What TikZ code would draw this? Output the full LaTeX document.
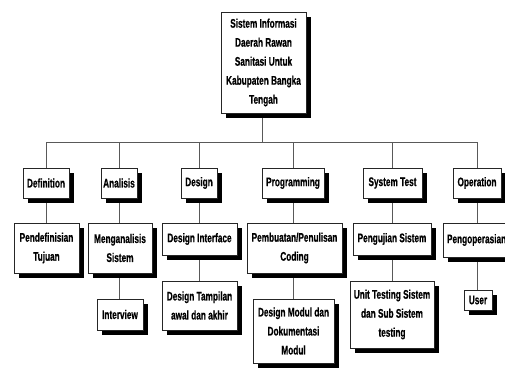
\documentclass[tikz,border=0pt]{standalone}
\usepackage{fontspec}
\setmainfont{Liberation Sans}[FakeStretch=0.66, BoldFeatures={FakeBold=0.5}]
\usetikzlibrary{shadows,backgrounds}
\begin{document}
\begin{tikzpicture}[x=1pt,y=-1pt,
  box/.style={draw=black!85, line width=0.7pt, fill=white, align=center,
    inner sep=1pt, font=\fontsize{12.5}{19}\selectfont\bfseries,
    drop shadow={shadow xshift=5pt, shadow yshift=-5pt, fill=black, opacity=1}},
  link/.style={draw=black!65, line width=0.7pt}]
\useasboundingbox (0,0) rectangle (505,369);
% root
\node[box, minimum width=85, minimum height=101] (root) at (263.5,62.5)
  {Sistem Informasi\\Daerah Rawan\\Sanitasi Untuk\\Kabupaten Bangka\\Tengah};
% phases
\node[box, minimum width=46, minimum height=30] (def)  at (46,183)    {Definition};
\node[box, minimum width=36, minimum height=30] (ana)  at (119,183)   {Analisis};
\node[box, minimum width=36, minimum height=30] (des)  at (199,183)   {Design};
\node[box, minimum width=62, minimum height=30] (prog) at (293,183)   {Programming};
\node[box, minimum width=59, minimum height=30] (test) at (392.5,183) {System Test};
\node[box, minimum width=48, minimum height=30] (oper) at (477,183)   {Operation};
% activities
\node[box, minimum width=65, minimum height=50] (pend) at (46.5,248)  {Pendefinisian\\Tujuan};
\node[box, minimum width=64, minimum height=50] (meng) at (120,248)   {Menganalisis\\Sistem};
\node[box, minimum width=75, minimum height=32] (dint) at (199.5,239) {Design Interface};
\node[box, minimum width=95, minimum height=50] (pemb) at (294.5,248) {Pembuatan/Penulisan\\Coding};
\node[box, minimum width=78, minimum height=32] (peng) at (392,239)   {Pengujian Sistem};
\node[box, minimum width=72, minimum height=34, text width=64, align=left] (pop) at (479,240) {Pengoperasian};
% details
\node[box, minimum width=46, minimum height=31] (intv) at (120,314.5)   {Interview};
\node[box, minimum width=75, minimum height=49] (dtam) at (199.5,305.5) {Design Tampilan\\awal dan akhir};
\node[box, minimum width=81, minimum height=64] (dmod) at (293.5,331)   {Design Modul dan\\Dokumentasi\\Modul};
\node[box, minimum width=84, minimum height=67] (unit) at (392,314.5)   {Unit Testing Sistem\\dan Sub Sistem\\testing};
\node[box, minimum width=28, minimum height=20] (user) at (478,300)     {User};
% connectors, kept behind the boxes
\coordinate (bl) at (def.north |- 0,142);
\coordinate (br) at (oper.north |- 0,142);
\coordinate (bt) at (262,142);
\begin{scope}[on background layer]
  \draw[link] (bl) -- (br);
  \draw[link] (root.south -| bt) -- (bt);
  \foreach \n in {def,ana,des,prog,test,oper}
    \draw[link] (\n.north |- bl) -- (\n.north);
  \draw[link] (def.south)  -- (def.south |- pend.north);
  \draw[link] (ana.south)  -- (ana.south |- meng.north);
  \draw[link] (des.south)  -- (des.south |- dint.north);
  \draw[link] (prog.south) -- (prog.south |- pemb.north);
  \draw[link] (test.south) -- (test.south |- peng.north);
  \draw[link] (oper.south) -- (oper.south |- pop.north);
  \draw[link] (meng.south -| ana.south) -- (ana.south |- intv.north);
  \draw[link] (dint.south -| des.south) -- (des.south |- dtam.north);
  \draw[link] (pemb.south -| prog.south) -- (prog.south |- dmod.north);
  \draw[link] (peng.south -| test.south) -- (test.south |- unit.north);
  \draw[link] (pop.south -| oper.south) -- (oper.south |- user.north);
\end{scope}
\end{tikzpicture}
\end{document}
